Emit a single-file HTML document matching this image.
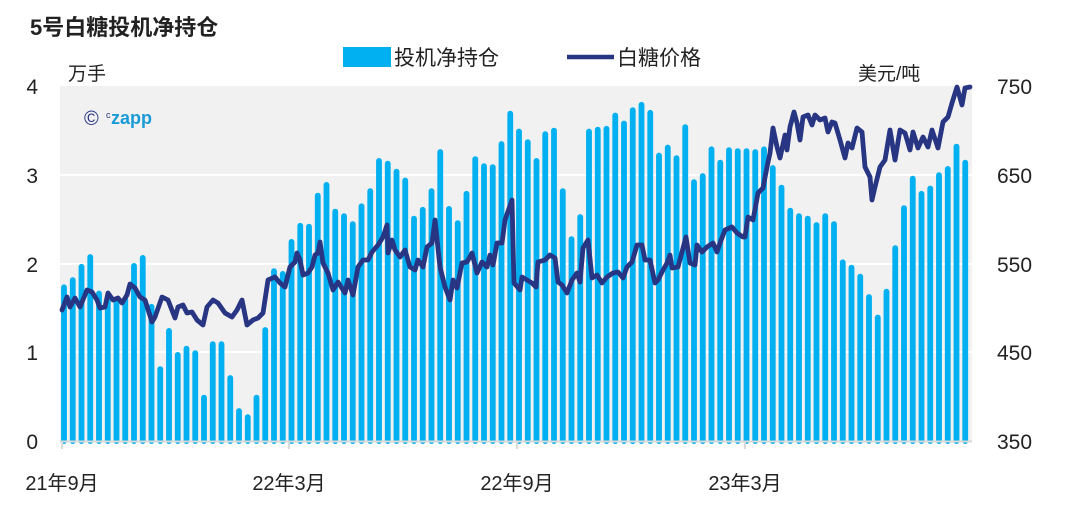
<!DOCTYPE html>
<html><head><meta charset="utf-8"><style>
body{margin:0;background:#fff;}
svg{display:block;font-family:"Liberation Sans","Noto Sans CJK SC",sans-serif;}
</style></head><body>
<svg width="1084" height="511" viewBox="0 0 1084 511">
<rect x="0" y="0" width="1084" height="511" fill="#fff"/>
<text x="30" y="35" font-size="22" font-weight="bold" fill="#222">5号白糖投机净持仓</text>
<rect x="343" y="47" width="48" height="20" fill="#00b0f0"/>
<text x="394" y="65" font-size="21" fill="#222">投机净持仓</text>
<line x1="567" y1="57" x2="614" y2="57" stroke="#283583" stroke-width="4.5"/>
<text x="617" y="65" font-size="21" fill="#222">白糖价格</text>
<text x="68" y="80" font-size="19" fill="#222">万手</text>
<text x="858" y="80" font-size="19" fill="#222">美元/吨</text>
<rect x="60" y="86" width="912" height="355" fill="#f1f1f1"/>
<g stroke="#fff" stroke-width="2"><line x1="60" y1="175" x2="972" y2="175"/><line x1="60" y1="264" x2="972" y2="264"/><line x1="60" y1="352" x2="972" y2="352"/></g>
<text x="84" y="125" font-size="20" fill="#283583">©</text>
<text x="106" y="118" font-size="9" fill="#283583">c</text>
<text x="111" y="124" font-size="18" font-weight="bold" fill="#1a9ad6">zapp</text>
<g font-size="21" fill="#222" text-anchor="end">
<text x="38" y="94">4</text><text x="38" y="183">3</text><text x="38" y="272">2</text><text x="38" y="360">1</text><text x="38" y="449">0</text></g>
<g font-size="21" fill="#222">
<text x="997" y="94">750</text><text x="997" y="183">650</text><text x="997" y="272">550</text><text x="997" y="360">450</text><text x="997" y="449">350</text></g>
<g font-size="20" fill="#222" text-anchor="middle">
<text x="62" y="490">21年9月</text><text x="289" y="490">22年3月</text><text x="517" y="490">22年9月</text><text x="745" y="490">23年3月</text></g>
<g id="bars" fill="#00b0f0"></g>
<line x1="60" y1="441.5" x2="972" y2="441.5" stroke="#d9d9d9" stroke-width="2"/>
<g stroke="#d9d9d9" stroke-width="2"><line x1="62" y1="441" x2="62" y2="449"/><line x1="289" y1="441" x2="289" y2="449"/><line x1="517" y1="441" x2="517" y2="449"/><line x1="745" y1="441" x2="745" y2="449"/></g>
<polyline id="ln" fill="none" stroke="#283583" stroke-width="4.8" stroke-linejoin="round" stroke-linecap="round" points="62,310 67,297 70,307 75,298 80,307 87,290 92,292 97,300 100,308 105,307 108,293 113,300 118,298 122,303 127,295 130,284 135,288 140,297 145,300 152,322 155,317 162,297 168,300 175,318 178,307 183,305 187,313 192,312 197,320 203,325 207,307 213,300 218,303 225,313 232,317 237,310 242,300 247,325 253,320 258,318 263,313 268,280 275,277 280,283 285,287 290,267 295,262 297,253 300,260 303,275 308,273 312,267 315,255 318,253 320,242 323,263 328,273 333,290 338,282 345,293 348,280 353,295 358,267 363,260 368,260 372,252 378,245 383,237 387,225 388,253 392,240 395,250 400,257 405,250 410,267 415,270 418,260 423,267 427,247 432,243 435,220 440,267 445,287 450,300 453,280 457,288 462,263 467,262 472,253 477,273 482,262 487,267 490,255 493,265 497,243 502,243 505,220 512,200 514,283 520,290 522,277 527,280 532,283 536,287 538,262 545,260 550,255 555,258 558,282 562,285 567,293 572,280 577,273 580,282 583,248 588,240 592,278 597,275 602,283 607,277 613,273 618,272 623,278 627,267 632,262 637,245 642,245 645,260 650,260 655,283 658,280 662,272 667,263 670,255 672,268 678,267 682,252 686,237 690,263 695,265 697,245 702,252 707,247 713,243 717,252 720,243 725,230 732,227 737,233 743,237 745,237 748,217 753,220 758,193 763,188 767,167 770,153 773,128 777,147 780,158 785,135 787,150 790,127 794,112 797,123 800,140 803,117 808,115 812,125 815,115 820,120 825,118 828,132 832,122 835,123 840,140 845,158 848,143 852,148 857,128 862,132 865,167 870,177 872,200 875,187 880,167 885,160 890,130 895,160 900,130 905,133 910,150 913,132 918,148 923,137 928,147 932,130 938,148 943,122 948,117 952,103 957,87 962,105 965,88 970,87"/>
</svg>
<script>
var v=[1.76,1.84,1.99,2.10,1.69,1.62,1.62,1.62,2.00,2.09,1.54,0.84,1.27,1.00,1.07,1.02,0.52,1.12,1.12,0.74,0.37,0.30,0.52,1.28,1.94,1.91,2.27,2.45,2.44,2.79,2.91,2.61,2.56,2.47,2.67,2.84,3.18,3.15,3.06,2.96,2.53,2.63,2.84,3.28,2.64,2.48,2.81,3.20,3.12,3.11,3.37,3.71,3.51,3.39,3.18,3.48,3.52,2.84,2.30,2.55,3.51,3.53,3.54,3.69,3.60,3.75,3.81,3.72,3.24,3.33,3.21,3.56,2.94,3.01,3.31,3.16,3.30,3.29,3.29,3.28,3.31,3.10,2.88,2.62,2.56,2.53,2.46,2.56,2.47,2.04,1.98,1.88,1.65,1.42,1.71,2.20,2.65,2.98,2.81,2.87,3.02,3.09,3.34,3.16];
var g=document.getElementById('bars'),s='';
for(var i=0;i<v.length;i++){var x=64+i*8.75-2.9,h=v[i]*89,y=441-h;
s+='<rect x="'+x.toFixed(2)+'" y="'+y.toFixed(1)+'" width="5.8" height="'+(h+3).toFixed(1)+'" rx="2.9"/>';}
g.innerHTML=s;
</script>
</body></html>
